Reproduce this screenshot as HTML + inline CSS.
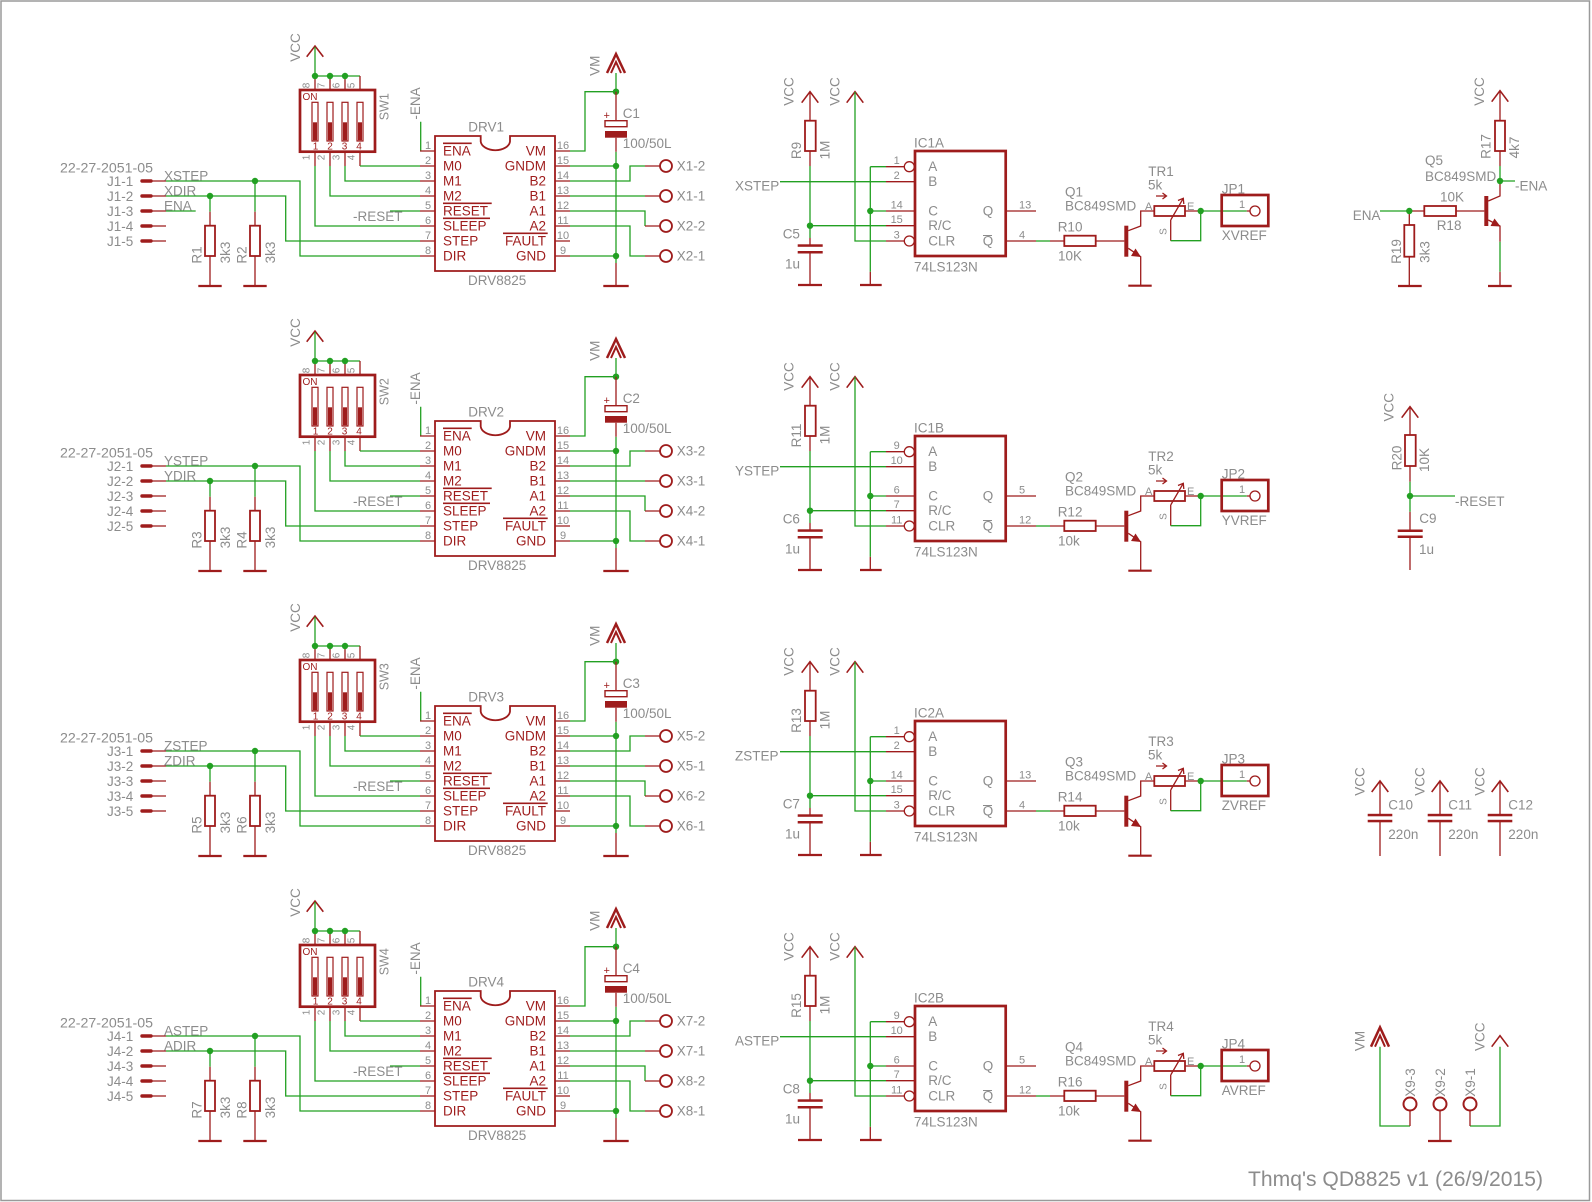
<!DOCTYPE html>
<html><head><meta charset="utf-8"><style>
html,body{margin:0;padding:0;background:#fff}
svg{display:block}
text{font-family:"Liberation Sans",sans-serif;font-size:13.5px;fill:#8c8c8c}
.r{fill:#9e1c1c}.m{text-anchor:middle}.e{text-anchor:end}.s{font-size:11px}.t{font-size:10px}
.p{stroke:#9e1c1c;stroke-width:1.3;fill:none}
.n{stroke:#22a022;stroke-width:1.3;fill:none}
.w{stroke:#9e1c1c;stroke-width:2.7;fill:none}
.b{stroke:#9e1c1c;stroke-width:1.8;fill:none}
.g{stroke:#9e1c1c;stroke-width:2.2;fill:none}
.v{stroke:#9e1c1c;stroke-width:1.6;fill:none}
.j{fill:#22a022}.f{fill:#9e1c1c}
</style></head><body>
<svg width="1592" height="1202" viewBox="0 0 1592 1202" xmlns="http://www.w3.org/2000/svg">
<rect x="0" y="0" width="1592" height="1202" fill="#fff"/>
<rect x="1" y="1" width="1588.5" height="1199.5" fill="none" stroke="#9a9a9a" stroke-width="1.5"/>
<defs>
<g id="LS">
<path class="v" d="M306.7,56.7L315,46L323.3,56.7"/>
<path class="n" d="M315,47V76H360"/>
<path class="p" d="M315,76V90M330,76V90M345,76V90M360,76V90"/>
<circle class="j" cx="315" cy="76" r="3.2"/><circle class="j" cx="330" cy="76" r="3.2"/><circle class="j" cx="345" cy="76" r="3.2"/>
<rect class="w" x="300" y="90" width="75" height="61.7"/>
<g stroke="#9e1c1c" stroke-width="1.2" fill="#fff">
<rect x="312" y="102.3" width="6" height="38.7"/><rect x="327" y="102.3" width="6" height="38.7"/><rect x="342" y="102.3" width="6" height="38.7"/><rect x="357" y="102.3" width="6" height="38.7"/>
</g>
<rect class="f" x="313" y="122.3" width="4" height="18"/><rect class="f" x="328" y="122.3" width="4" height="18"/><rect class="f" x="343" y="122.3" width="4" height="18"/><rect class="f" x="358" y="122.3" width="4" height="18"/>
<path class="p" d="M315,151.7V166M330,151.7V166M345,151.7V166M360,151.7V166"/>
<path class="n" d="M360,166H420M345,166V181H420M330,166V196H420M315,166V226H420"/>
<path d="M142,181H151M142,196H151M142,211H151M142,226H151M142,241H151" stroke="#9e1c1c" stroke-width="3.4" stroke-linecap="round" fill="none"/>
<path class="p" d="M151,181H166M151,196H166M151,211H166M151,226H166M151,241H166"/>
<path class="n" d="M166,181H300V256H420M166,196H285.7V241H420"/>
<circle class="j" cx="210" cy="196" r="3.2"/><circle class="j" cx="255" cy="181" r="3.2"/>
<path class="n" d="M210,196V211.7M255,181V211.7"/>
<path class="p" d="M210,211.7V225.7M210,256V286M255,211.7V225.7M255,256V286"/>
<rect class="b" x="205" y="225.7" width="10" height="30.3"/><rect class="b" x="250" y="225.7" width="10" height="30.3"/>
<path class="g" d="M198.3,286H221.7M243.3,286H266.7"/>
<path class="n" d="M390,211H420M420.7,121.7V151"/>
<path class="b" stroke-width="1.7" d="M435,136H480.7V141.5A14.7,9.5 0 0 0 510,141.5V136H555V271H435Z"/>
<path class="p" d="M420,151H435M420,166H435M420,181H435M420,196H435M420,211H435M420,226H435M420,241H435M420,256H435"/>
<path class="p" d="M555,151H570M555,166H570M555,181H570M555,196H570M555,211H570M555,226H570M555,241H570M555,256H570"/>
<path class="v" d="M443,143.3H471.7M443,203.3H491.7M443,218.3H490M503,233.3H547.7"/>
<path class="n" d="M570,151H585V91.7H616M616,73V91.7M616,151.7V263M570,166H616M570,256H616M570,181H630V166H645M570,196H645M570,211H645V226M570,226H630V256H645"/>
<circle class="j" cx="616" cy="91.7" r="3.2"/><circle class="j" cx="616" cy="166" r="3.2"/><circle class="j" cx="616" cy="256" r="3.2"/>
<path d="M607,73L616,54L625,73" stroke="#9e1c1c" stroke-width="2.5" fill="none"/>
<path d="M611,73L616,62L621,73" stroke="#9e1c1c" stroke-width="2" fill="none"/>
<path class="p" d="M616,91.7V120.7M616,137.7V151.7M616,263V286"/>
<rect x="605" y="120.7" width="22" height="6" stroke="#9e1c1c" stroke-width="1.4" fill="#fff"/>
<rect class="f" x="605" y="131" width="22" height="6.7"/>
<path class="g" d="M603.3,286H628.7"/>
<path class="p" d="M645,166H660M645,196H660M645,226H660M645,256H660"/>
<g stroke="#9e1c1c" stroke-width="1.8" fill="none"><circle cx="666" cy="166" r="6"/><circle cx="666" cy="196" r="6"/><circle cx="666" cy="226" r="6"/><circle cx="666" cy="256" r="6"/></g>
</g>
<g id="MS">
<path class="v" d="M801.7,102.7L810,91.7L818.3,102.7M846.7,102.7L855,91.7L863.3,102.7"/>
<path class="p" d="M810,91.7V120.7M810,151V166M810,238V245.7M810,252V285M870.3,271.7V285"/>
<rect class="b" x="805" y="120.7" width="10.7" height="30.3"/>
<path class="n" d="M810,166V238M855,92V241H886M870.3,166.7V271.7M870.3,166.7H886M870.3,211H886M780,181.7H886M810,225.7H886"/>
<rect class="f" x="797.7" y="244.3" width="25" height="2.5"/><rect class="f" x="797.7" y="251" width="25" height="2.5"/>
<path class="g" d="M798,285H822M860,285H881.7"/>
<circle class="j" cx="810" cy="225.7" r="3.2"/><circle class="j" cx="870.3" cy="211" r="3.2"/>
<path class="p" d="M886,166.7H904.3M886,181.7H915M886,211H915M886,225.7H915M886,241H904.3"/>
<circle cx="909.3" cy="166.7" r="5" stroke="#9e1c1c" stroke-width="1.3" fill="#fff"/>
<circle cx="909.3" cy="241" r="5" stroke="#9e1c1c" stroke-width="1.3" fill="#fff"/>
<rect class="w" x="915" y="151" width="90.7" height="105"/>
<path d="M983,235.5H992" stroke="#8c8c8c" stroke-width="1"/>
<path class="p" d="M1005.7,211H1036M1005.7,241H1036M1050,241H1064.3M1095.7,241H1124.3"/>
<path class="n" d="M1036,241H1050"/>
<rect class="b" x="1064.3" y="235.7" width="31.4" height="10.3"/>
<rect class="f" x="1124.3" y="225.7" width="4" height="31"/>
<path class="p" d="M1128.3,230.7L1140.7,226V211H1154.3M1128.3,248.3L1140.7,256.7V285.7"/>
<path class="f" d="M1141,257L1131,256L1135.5,248.5Z"/>
<path class="g" d="M1128.3,285.7H1151.7"/>
<rect class="b" x="1154.3" y="206" width="30.7" height="10"/>
<path class="p" d="M1170.7,220L1183.3,198.3M1178,200.5L1183.3,198.3L1183.8,204M1156,196H1166.5M1162.5,193L1166.5,196L1162.5,199M1170.7,220V240.7M1185,211H1200.7M1246.7,211H1250"/>
<path class="n" d="M1170.7,240.7H1200.7V211H1246.7"/>
<circle class="j" cx="1200.7" cy="211" r="3.2"/>
<circle cx="1255" cy="211" r="5" stroke="#9e1c1c" stroke-width="1.3" fill="none"/>
<rect class="w" x="1221.7" y="195" width="46.6" height="31"/>
</g>
</defs>
<use href="#LS"/><use href="#LS" y="285"/><use href="#LS" y="570"/><use href="#LS" y="855"/>
<use href="#MS"/><use href="#MS" y="285"/><use href="#MS" y="570"/><use href="#MS" y="855"/>
<path class="n" d="M166,211H195.7"/>

<!-- BLOCK 1 TEXT -->
<g>
<text class="m" transform="translate(300,47.5)rotate(-90)">VCC</text>
<text class="t m" transform="translate(309.5,85.5)rotate(-90)">8</text><text class="t m" transform="translate(324.5,85.5)rotate(-90)">7</text><text class="t m" transform="translate(339.5,85.5)rotate(-90)">6</text><text class="t m" transform="translate(354.5,85.5)rotate(-90)">5</text>
<text class="t r" x="302.5" y="100">ON</text>
<text class="t r m" x="315.5" y="149.5">1</text><text class="t r m" x="330" y="149.5">2</text><text class="t r m" x="344.5" y="149.5">3</text><text class="t r m" x="359" y="149.5">4</text>
<text class="t m" transform="translate(309.5,157.5)rotate(-90)">1</text><text class="t m" transform="translate(324.5,157.5)rotate(-90)">2</text><text class="t m" transform="translate(339.5,157.5)rotate(-90)">3</text><text class="t m" transform="translate(354.5,157.5)rotate(-90)">4</text>
<text class="m" style="font-size:12.5px" transform="translate(388.3,106.7)rotate(-90)">SW1</text>
<text x="60" y="172.5" textLength="93" lengthAdjust="spacingAndGlyphs">22-27-2051-05</text>
<text class="e" x="133.3" y="186">J1-1</text><text class="e" x="133.3" y="201">J1-2</text><text class="e" x="133.3" y="216">J1-3</text><text class="e" x="133.3" y="231">J1-4</text><text class="e" x="133.3" y="246">J1-5</text>
<text x="164" y="180.5">XSTEP</text><text x="164" y="195.5">XDIR</text><text x="164" y="210.5">ENA</text>
<text x="353" y="221">-RESET</text>
<text class="m" transform="translate(201.7,255)rotate(-90)">R1</text><text class="m" transform="translate(230,252.5)rotate(-90)">3k3</text>
<text class="m" transform="translate(246.7,255)rotate(-90)">R2</text><text class="m" transform="translate(275,252.5)rotate(-90)">3k3</text>
<text class="m" transform="translate(420,103.5)rotate(-90)">-ENA</text>
<text x="468.3" y="131.5">DRV1</text>
<text class="s m" x="428" y="149">1</text><text class="s m" x="428" y="164">2</text><text class="s m" x="428" y="179">3</text><text class="s m" x="428" y="194">4</text><text class="s m" x="428" y="209">5</text><text class="s m" x="428" y="224">6</text><text class="s m" x="428" y="239">7</text><text class="s m" x="428" y="254">8</text>
<text class="r" x="443" y="155.5">ENA</text><text class="r" x="443" y="170.5">M0</text><text class="r" x="443" y="185.5">M1</text><text class="r" x="443" y="200.5">M2</text><text class="r" x="443" y="215.5">RESET</text><text class="r" x="443" y="230.5">SLEEP</text><text class="r" x="443" y="245.5">STEP</text><text class="r" x="443" y="260.5">DIR</text>
<text class="r e" x="546" y="155.5">VM</text><text class="r e" x="546" y="170.5">GNDM</text><text class="r e" x="546" y="185.5">B2</text><text class="r e" x="546" y="200.5">B1</text><text class="r e" x="546" y="215.5">A1</text><text class="r e" x="546" y="230.5">A2</text><text class="r e" x="546" y="245.5">FAULT</text><text class="r e" x="546" y="260.5">GND</text>
<text class="s m" x="563" y="149">16</text><text class="s m" x="563" y="164">15</text><text class="s m" x="563" y="179">14</text><text class="s m" x="563" y="194">13</text><text class="s m" x="563" y="209">12</text><text class="s m" x="563" y="224">11</text><text class="s m" x="563" y="239">10</text><text class="s m" x="563" y="254">9</text>
<text x="468" y="285">DRV8825</text>
<text class="r s" x="603.5" y="119">+</text><text x="622.7" y="118">C1</text><text x="622.7" y="148">100/50L</text>
<text x="676.7" y="170.5">X1-2</text><text x="676.7" y="200.5">X1-1</text><text x="676.7" y="230.5">X2-2</text><text x="676.7" y="260.5">X2-1</text>
<text class="m" transform="translate(599.3,65.8)rotate(-90)">VM</text>
<text class="m" transform="translate(793.3,91.5)rotate(-90)">VCC</text><text class="m" transform="translate(801,150.5)rotate(-90)">R9</text><text class="m" transform="translate(829.3,150)rotate(-90)">1M</text><text class="m" transform="translate(839.3,91.5)rotate(-90)">VCC</text>
<text x="782.7" y="238.3">C5</text><text x="785" y="268.3">1u</text><text x="735" y="190.7">XSTEP</text>
<text x="914" y="147.3">IC1A</text><text x="914" y="271.5">74LS123N</text>
<text class="s m" x="896.7" y="164.2">1</text><text class="s m" x="896.7" y="179.2">2</text><text class="s m" x="896.7" y="208.5">14</text><text class="s m" x="896.7" y="223.2">15</text><text class="s m" x="896.7" y="238.5">3</text>
<text x="928.3" y="171.2">A</text><text x="928.3" y="186.2">B</text><text x="928.3" y="215.5">C</text><text x="928.3" y="230.2">R/C</text><text x="928.3" y="245.5">CLR</text><text x="982.7" y="215.5">Q</text><text x="982.7" y="245.5">Q</text>
<text class="s" x="1019" y="208.5">13</text><text class="s" x="1019" y="238.5">4</text>
<text x="1065" y="196.5">Q1</text><text x="1065" y="210.5">BC849SMD</text><text x="1057.7" y="231.5">R10</text><text x="1058" y="260.5">10K</text>
<text x="1148.3" y="176">TR1</text><text x="1148" y="189.3">5k</text><text class="s" x="1145" y="210">A</text><text class="s" x="1187" y="210">E</text><text class="t m" transform="translate(1166.5,231.5)rotate(-90)">S</text>
<text x="1221.7" y="193.3">JP1</text><text class="s" x="1239" y="208">1</text><text x="1221.7" y="240">XVREF</text>
</g>

<!-- BLOCK 2 TEXT -->
<g transform="translate(0,285)">
<text class="m" transform="translate(300,47.5)rotate(-90)">VCC</text>
<text class="t m" transform="translate(309.5,85.5)rotate(-90)">8</text><text class="t m" transform="translate(324.5,85.5)rotate(-90)">7</text><text class="t m" transform="translate(339.5,85.5)rotate(-90)">6</text><text class="t m" transform="translate(354.5,85.5)rotate(-90)">5</text>
<text class="t r" x="302.5" y="100">ON</text>
<text class="t r m" x="315.5" y="149.5">1</text><text class="t r m" x="330" y="149.5">2</text><text class="t r m" x="344.5" y="149.5">3</text><text class="t r m" x="359" y="149.5">4</text>
<text class="t m" transform="translate(309.5,157.5)rotate(-90)">1</text><text class="t m" transform="translate(324.5,157.5)rotate(-90)">2</text><text class="t m" transform="translate(339.5,157.5)rotate(-90)">3</text><text class="t m" transform="translate(354.5,157.5)rotate(-90)">4</text>
<text class="m" style="font-size:12.5px" transform="translate(388.3,106.7)rotate(-90)">SW2</text>
<text x="60" y="172.5" textLength="93" lengthAdjust="spacingAndGlyphs">22-27-2051-05</text>
<text class="e" x="133.3" y="186">J2-1</text><text class="e" x="133.3" y="201">J2-2</text><text class="e" x="133.3" y="216">J2-3</text><text class="e" x="133.3" y="231">J2-4</text><text class="e" x="133.3" y="246">J2-5</text>
<text x="164" y="180.5">YSTEP</text><text x="164" y="195.5">YDIR</text>
<text x="353" y="221">-RESET</text>
<text class="m" transform="translate(201.7,255)rotate(-90)">R3</text><text class="m" transform="translate(230,252.5)rotate(-90)">3k3</text>
<text class="m" transform="translate(246.7,255)rotate(-90)">R4</text><text class="m" transform="translate(275,252.5)rotate(-90)">3k3</text>
<text class="m" transform="translate(420,103.5)rotate(-90)">-ENA</text>
<text x="468.3" y="131.5">DRV2</text>
<text class="s m" x="428" y="149">1</text><text class="s m" x="428" y="164">2</text><text class="s m" x="428" y="179">3</text><text class="s m" x="428" y="194">4</text><text class="s m" x="428" y="209">5</text><text class="s m" x="428" y="224">6</text><text class="s m" x="428" y="239">7</text><text class="s m" x="428" y="254">8</text>
<text class="r" x="443" y="155.5">ENA</text><text class="r" x="443" y="170.5">M0</text><text class="r" x="443" y="185.5">M1</text><text class="r" x="443" y="200.5">M2</text><text class="r" x="443" y="215.5">RESET</text><text class="r" x="443" y="230.5">SLEEP</text><text class="r" x="443" y="245.5">STEP</text><text class="r" x="443" y="260.5">DIR</text>
<text class="r e" x="546" y="155.5">VM</text><text class="r e" x="546" y="170.5">GNDM</text><text class="r e" x="546" y="185.5">B2</text><text class="r e" x="546" y="200.5">B1</text><text class="r e" x="546" y="215.5">A1</text><text class="r e" x="546" y="230.5">A2</text><text class="r e" x="546" y="245.5">FAULT</text><text class="r e" x="546" y="260.5">GND</text>
<text class="s m" x="563" y="149">16</text><text class="s m" x="563" y="164">15</text><text class="s m" x="563" y="179">14</text><text class="s m" x="563" y="194">13</text><text class="s m" x="563" y="209">12</text><text class="s m" x="563" y="224">11</text><text class="s m" x="563" y="239">10</text><text class="s m" x="563" y="254">9</text>
<text x="468" y="285">DRV8825</text>
<text class="r s" x="603.5" y="119">+</text><text x="622.7" y="118">C2</text><text x="622.7" y="148">100/50L</text>
<text x="676.7" y="170.5">X3-2</text><text x="676.7" y="200.5">X3-1</text><text x="676.7" y="230.5">X4-2</text><text x="676.7" y="260.5">X4-1</text>
<text class="m" transform="translate(599.3,65.8)rotate(-90)">VM</text>
<text class="m" transform="translate(793.3,91.5)rotate(-90)">VCC</text><text class="m" transform="translate(801,150.5)rotate(-90)">R11</text><text class="m" transform="translate(829.3,150)rotate(-90)">1M</text><text class="m" transform="translate(839.3,91.5)rotate(-90)">VCC</text>
<text x="782.7" y="238.3">C6</text><text x="785" y="268.3">1u</text><text x="735" y="190.7">YSTEP</text>
<text x="914" y="147.3">IC1B</text><text x="914" y="271.5">74LS123N</text>
<text class="s m" x="896.7" y="164.2">9</text><text class="s m" x="896.7" y="179.2">10</text><text class="s m" x="896.7" y="208.5">6</text><text class="s m" x="896.7" y="223.2">7</text><text class="s m" x="896.7" y="238.5">11</text>
<text x="928.3" y="171.2">A</text><text x="928.3" y="186.2">B</text><text x="928.3" y="215.5">C</text><text x="928.3" y="230.2">R/C</text><text x="928.3" y="245.5">CLR</text><text x="982.7" y="215.5">Q</text><text x="982.7" y="245.5">Q</text>
<text class="s" x="1019" y="208.5">5</text><text class="s" x="1019" y="238.5">12</text>
<text x="1065" y="196.5">Q2</text><text x="1065" y="210.5">BC849SMD</text><text x="1057.7" y="231.5">R12</text><text x="1058" y="260.5">10k</text>
<text x="1148.3" y="176">TR2</text><text x="1148" y="189.3">5k</text><text class="s" x="1145" y="210">A</text><text class="s" x="1187" y="210">E</text><text class="t m" transform="translate(1166.5,231.5)rotate(-90)">S</text>
<text x="1221.7" y="193.3">JP2</text><text class="s" x="1239" y="208">1</text><text x="1221.7" y="240">YVREF</text>
</g>

<!-- BLOCK 3 TEXT -->
<g transform="translate(0,570)">
<text class="m" transform="translate(300,47.5)rotate(-90)">VCC</text>
<text class="t m" transform="translate(309.5,85.5)rotate(-90)">8</text><text class="t m" transform="translate(324.5,85.5)rotate(-90)">7</text><text class="t m" transform="translate(339.5,85.5)rotate(-90)">6</text><text class="t m" transform="translate(354.5,85.5)rotate(-90)">5</text>
<text class="t r" x="302.5" y="100">ON</text>
<text class="t r m" x="315.5" y="149.5">1</text><text class="t r m" x="330" y="149.5">2</text><text class="t r m" x="344.5" y="149.5">3</text><text class="t r m" x="359" y="149.5">4</text>
<text class="t m" transform="translate(309.5,157.5)rotate(-90)">1</text><text class="t m" transform="translate(324.5,157.5)rotate(-90)">2</text><text class="t m" transform="translate(339.5,157.5)rotate(-90)">3</text><text class="t m" transform="translate(354.5,157.5)rotate(-90)">4</text>
<text class="m" style="font-size:12.5px" transform="translate(388.3,106.7)rotate(-90)">SW3</text>
<text x="60" y="172.5" textLength="93" lengthAdjust="spacingAndGlyphs">22-27-2051-05</text>
<text class="e" x="133.3" y="186">J3-1</text><text class="e" x="133.3" y="201">J3-2</text><text class="e" x="133.3" y="216">J3-3</text><text class="e" x="133.3" y="231">J3-4</text><text class="e" x="133.3" y="246">J3-5</text>
<text x="164" y="180.5">ZSTEP</text><text x="164" y="195.5">ZDIR</text>
<text x="353" y="221">-RESET</text>
<text class="m" transform="translate(201.7,255)rotate(-90)">R5</text><text class="m" transform="translate(230,252.5)rotate(-90)">3k3</text>
<text class="m" transform="translate(246.7,255)rotate(-90)">R6</text><text class="m" transform="translate(275,252.5)rotate(-90)">3k3</text>
<text class="m" transform="translate(420,103.5)rotate(-90)">-ENA</text>
<text x="468.3" y="131.5">DRV3</text>
<text class="s m" x="428" y="149">1</text><text class="s m" x="428" y="164">2</text><text class="s m" x="428" y="179">3</text><text class="s m" x="428" y="194">4</text><text class="s m" x="428" y="209">5</text><text class="s m" x="428" y="224">6</text><text class="s m" x="428" y="239">7</text><text class="s m" x="428" y="254">8</text>
<text class="r" x="443" y="155.5">ENA</text><text class="r" x="443" y="170.5">M0</text><text class="r" x="443" y="185.5">M1</text><text class="r" x="443" y="200.5">M2</text><text class="r" x="443" y="215.5">RESET</text><text class="r" x="443" y="230.5">SLEEP</text><text class="r" x="443" y="245.5">STEP</text><text class="r" x="443" y="260.5">DIR</text>
<text class="r e" x="546" y="155.5">VM</text><text class="r e" x="546" y="170.5">GNDM</text><text class="r e" x="546" y="185.5">B2</text><text class="r e" x="546" y="200.5">B1</text><text class="r e" x="546" y="215.5">A1</text><text class="r e" x="546" y="230.5">A2</text><text class="r e" x="546" y="245.5">FAULT</text><text class="r e" x="546" y="260.5">GND</text>
<text class="s m" x="563" y="149">16</text><text class="s m" x="563" y="164">15</text><text class="s m" x="563" y="179">14</text><text class="s m" x="563" y="194">13</text><text class="s m" x="563" y="209">12</text><text class="s m" x="563" y="224">11</text><text class="s m" x="563" y="239">10</text><text class="s m" x="563" y="254">9</text>
<text x="468" y="285">DRV8825</text>
<text class="r s" x="603.5" y="119">+</text><text x="622.7" y="118">C3</text><text x="622.7" y="148">100/50L</text>
<text x="676.7" y="170.5">X5-2</text><text x="676.7" y="200.5">X5-1</text><text x="676.7" y="230.5">X6-2</text><text x="676.7" y="260.5">X6-1</text>
<text class="m" transform="translate(599.3,65.8)rotate(-90)">VM</text>
<text class="m" transform="translate(793.3,91.5)rotate(-90)">VCC</text><text class="m" transform="translate(801,150.5)rotate(-90)">R13</text><text class="m" transform="translate(829.3,150)rotate(-90)">1M</text><text class="m" transform="translate(839.3,91.5)rotate(-90)">VCC</text>
<text x="782.7" y="238.3">C7</text><text x="785" y="268.3">1u</text><text x="735" y="190.7">ZSTEP</text>
<text x="914" y="147.3">IC2A</text><text x="914" y="271.5">74LS123N</text>
<text class="s m" x="896.7" y="164.2">1</text><text class="s m" x="896.7" y="179.2">2</text><text class="s m" x="896.7" y="208.5">14</text><text class="s m" x="896.7" y="223.2">15</text><text class="s m" x="896.7" y="238.5">3</text>
<text x="928.3" y="171.2">A</text><text x="928.3" y="186.2">B</text><text x="928.3" y="215.5">C</text><text x="928.3" y="230.2">R/C</text><text x="928.3" y="245.5">CLR</text><text x="982.7" y="215.5">Q</text><text x="982.7" y="245.5">Q</text>
<text class="s" x="1019" y="208.5">13</text><text class="s" x="1019" y="238.5">4</text>
<text x="1065" y="196.5">Q3</text><text x="1065" y="210.5">BC849SMD</text><text x="1057.7" y="231.5">R14</text><text x="1058" y="260.5">10k</text>
<text x="1148.3" y="176">TR3</text><text x="1148" y="189.3">5k</text><text class="s" x="1145" y="210">A</text><text class="s" x="1187" y="210">E</text><text class="t m" transform="translate(1166.5,231.5)rotate(-90)">S</text>
<text x="1221.7" y="193.3">JP3</text><text class="s" x="1239" y="208">1</text><text x="1221.7" y="240">ZVREF</text>
</g>

<!-- BLOCK 4 TEXT -->
<g transform="translate(0,855)">
<text class="m" transform="translate(300,47.5)rotate(-90)">VCC</text>
<text class="t m" transform="translate(309.5,85.5)rotate(-90)">8</text><text class="t m" transform="translate(324.5,85.5)rotate(-90)">7</text><text class="t m" transform="translate(339.5,85.5)rotate(-90)">6</text><text class="t m" transform="translate(354.5,85.5)rotate(-90)">5</text>
<text class="t r" x="302.5" y="100">ON</text>
<text class="t r m" x="315.5" y="149.5">1</text><text class="t r m" x="330" y="149.5">2</text><text class="t r m" x="344.5" y="149.5">3</text><text class="t r m" x="359" y="149.5">4</text>
<text class="t m" transform="translate(309.5,157.5)rotate(-90)">1</text><text class="t m" transform="translate(324.5,157.5)rotate(-90)">2</text><text class="t m" transform="translate(339.5,157.5)rotate(-90)">3</text><text class="t m" transform="translate(354.5,157.5)rotate(-90)">4</text>
<text class="m" style="font-size:12.5px" transform="translate(388.3,106.7)rotate(-90)">SW4</text>
<text x="60" y="172.5" textLength="93" lengthAdjust="spacingAndGlyphs">22-27-2051-05</text>
<text class="e" x="133.3" y="186">J4-1</text><text class="e" x="133.3" y="201">J4-2</text><text class="e" x="133.3" y="216">J4-3</text><text class="e" x="133.3" y="231">J4-4</text><text class="e" x="133.3" y="246">J4-5</text>
<text x="164" y="180.5">ASTEP</text><text x="164" y="195.5">ADIR</text>
<text x="353" y="221">-RESET</text>
<text class="m" transform="translate(201.7,255)rotate(-90)">R7</text><text class="m" transform="translate(230,252.5)rotate(-90)">3k3</text>
<text class="m" transform="translate(246.7,255)rotate(-90)">R8</text><text class="m" transform="translate(275,252.5)rotate(-90)">3k3</text>
<text class="m" transform="translate(420,103.5)rotate(-90)">-ENA</text>
<text x="468.3" y="131.5">DRV4</text>
<text class="s m" x="428" y="149">1</text><text class="s m" x="428" y="164">2</text><text class="s m" x="428" y="179">3</text><text class="s m" x="428" y="194">4</text><text class="s m" x="428" y="209">5</text><text class="s m" x="428" y="224">6</text><text class="s m" x="428" y="239">7</text><text class="s m" x="428" y="254">8</text>
<text class="r" x="443" y="155.5">ENA</text><text class="r" x="443" y="170.5">M0</text><text class="r" x="443" y="185.5">M1</text><text class="r" x="443" y="200.5">M2</text><text class="r" x="443" y="215.5">RESET</text><text class="r" x="443" y="230.5">SLEEP</text><text class="r" x="443" y="245.5">STEP</text><text class="r" x="443" y="260.5">DIR</text>
<text class="r e" x="546" y="155.5">VM</text><text class="r e" x="546" y="170.5">GNDM</text><text class="r e" x="546" y="185.5">B2</text><text class="r e" x="546" y="200.5">B1</text><text class="r e" x="546" y="215.5">A1</text><text class="r e" x="546" y="230.5">A2</text><text class="r e" x="546" y="245.5">FAULT</text><text class="r e" x="546" y="260.5">GND</text>
<text class="s m" x="563" y="149">16</text><text class="s m" x="563" y="164">15</text><text class="s m" x="563" y="179">14</text><text class="s m" x="563" y="194">13</text><text class="s m" x="563" y="209">12</text><text class="s m" x="563" y="224">11</text><text class="s m" x="563" y="239">10</text><text class="s m" x="563" y="254">9</text>
<text x="468" y="285">DRV8825</text>
<text class="r s" x="603.5" y="119">+</text><text x="622.7" y="118">C4</text><text x="622.7" y="148">100/50L</text>
<text x="676.7" y="170.5">X7-2</text><text x="676.7" y="200.5">X7-1</text><text x="676.7" y="230.5">X8-2</text><text x="676.7" y="260.5">X8-1</text>
<text class="m" transform="translate(599.3,65.8)rotate(-90)">VM</text>
<text class="m" transform="translate(793.3,91.5)rotate(-90)">VCC</text><text class="m" transform="translate(801,150.5)rotate(-90)">R15</text><text class="m" transform="translate(829.3,150)rotate(-90)">1M</text><text class="m" transform="translate(839.3,91.5)rotate(-90)">VCC</text>
<text x="782.7" y="238.3">C8</text><text x="785" y="268.3">1u</text><text x="735" y="190.7">ASTEP</text>
<text x="914" y="147.3">IC2B</text><text x="914" y="271.5">74LS123N</text>
<text class="s m" x="896.7" y="164.2">9</text><text class="s m" x="896.7" y="179.2">10</text><text class="s m" x="896.7" y="208.5">6</text><text class="s m" x="896.7" y="223.2">7</text><text class="s m" x="896.7" y="238.5">11</text>
<text x="928.3" y="171.2">A</text><text x="928.3" y="186.2">B</text><text x="928.3" y="215.5">C</text><text x="928.3" y="230.2">R/C</text><text x="928.3" y="245.5">CLR</text><text x="982.7" y="215.5">Q</text><text x="982.7" y="245.5">Q</text>
<text class="s" x="1019" y="208.5">5</text><text class="s" x="1019" y="238.5">12</text>
<text x="1065" y="196.5">Q4</text><text x="1065" y="210.5">BC849SMD</text><text x="1057.7" y="231.5">R16</text><text x="1058" y="260.5">10k</text>
<text x="1148.3" y="176">TR4</text><text x="1148" y="189.3">5k</text><text class="s" x="1145" y="210">A</text><text class="s" x="1187" y="210">E</text><text class="t m" transform="translate(1166.5,231.5)rotate(-90)">S</text>
<text x="1221.7" y="193.3">JP4</text><text class="s" x="1239" y="208">1</text><text x="1221.7" y="240">AVREF</text>
</g>

<!-- RIGHT COLUMN: Q5 -->
<path class="v" d="M1491.7,101.7L1500,90.7L1508.3,101.7"/>
<path class="p" d="M1500,90.7V120.7M1500,151V166M1500,181V196L1488.3,201M1488.3,220L1500,226V241.7M1500,271.7V286M1456,211H1484.3M1409.3,211H1424.3M1409.3,211V225M1409.3,256.7V286"/>
<path class="n" d="M1500,166V181H1515M1500,241.7V271.7M1380,211H1409.3"/>
<rect class="b" x="1495" y="120.7" width="10" height="30.3"/>
<rect class="b" x="1424.3" y="206" width="31.7" height="10"/>
<rect class="b" x="1404.3" y="225" width="10" height="31.7"/>
<rect class="f" x="1484.3" y="196" width="4" height="30"/>
<path class="f" d="M1500.5,226.5L1490.5,226L1494.5,218.5Z"/>
<circle class="j" cx="1500" cy="181" r="3.2"/><circle class="j" cx="1409.3" cy="211" r="3.2"/>
<path class="g" d="M1488,286H1511.7M1398,286H1421.7"/>
<text class="m" transform="translate(1484,91.5)rotate(-90)">VCC</text>
<text class="m" transform="translate(1490.7,146.5)rotate(-90)">R17</text>
<text class="m" transform="translate(1519,147.5)rotate(-90)">4k7</text>
<text x="1515" y="190.5">-ENA</text>
<text x="1425" y="165">Q5</text><text x="1425" y="181">BC849SMD</text>
<text x="1440" y="201.7">10K</text><text x="1436.7" y="230">R18</text>
<text x="1352.7" y="220">ENA</text>
<text class="m" transform="translate(1401,251.5)rotate(-90)">R19</text>
<text class="m" transform="translate(1429.3,252)rotate(-90)">3k3</text>

<!-- R20 / C9 -->
<path class="v" d="M1401.7,417.7L1410,406.7L1418.3,417.7"/>
<path class="p" d="M1410,406.7V435M1410,466V481.7M1410,511.7V529.5M1410,536V570"/>
<path class="n" d="M1410,481.7V511.7M1410,496H1455"/>
<rect class="b" x="1405" y="435" width="10.7" height="31"/>
<circle class="j" cx="1410" cy="496" r="3.2"/>
<rect class="f" x="1397.7" y="529.5" width="25" height="2.5"/><rect class="f" x="1397.7" y="535.5" width="25" height="2.5"/>
<text class="m" transform="translate(1393.3,407.3)rotate(-90)">VCC</text>
<text class="m" transform="translate(1401.7,458)rotate(-90)">R20</text>
<text class="m" transform="translate(1429,460)rotate(-90)">10K</text>
<text x="1455" y="506">-RESET</text>
<text x="1419.3" y="523">C9</text><text x="1419" y="554">1u</text>

<!-- C10 C11 C12 -->
<path class="v" d="M1371.7,792L1380,781L1388.3,792M1431.7,792L1440,781L1448.3,792M1491.7,792L1500,781L1508.3,792"/>
<path class="p" d="M1380,781V814M1380,822V856M1440,781V814M1440,822V856M1500,781V814M1500,822V856"/>
<rect class="f" x="1367.7" y="813.8" width="24.6" height="2.5"/><rect class="f" x="1367.7" y="819.8" width="24.6" height="2.5"/>
<rect class="f" x="1427.7" y="813.8" width="24.6" height="2.5"/><rect class="f" x="1427.7" y="819.8" width="24.6" height="2.5"/>
<rect class="f" x="1487.7" y="813.8" width="24.6" height="2.5"/><rect class="f" x="1487.7" y="819.8" width="24.6" height="2.5"/>
<text class="m" transform="translate(1364.3,781.5)rotate(-90)">VCC</text>
<text class="m" transform="translate(1424.3,781.5)rotate(-90)">VCC</text>
<text class="m" transform="translate(1484.3,781.5)rotate(-90)">VCC</text>
<text x="1388.3" y="809.3">C10</text><text x="1448.3" y="809.3">C11</text><text x="1508.3" y="809.3">C12</text>
<text x="1388.3" y="839">220n</text><text x="1448.3" y="839">220n</text><text x="1508.3" y="839">220n</text>

<!-- X9 -->
<path d="M1371,1046.7L1380,1027.3L1389,1046.7" stroke="#9e1c1c" stroke-width="2.5" fill="none"/>
<path d="M1375,1046.7L1380,1035.5L1385,1046.7" stroke="#9e1c1c" stroke-width="2" fill="none"/>
<path class="v" d="M1491.7,1046.7L1500,1035.7L1508.3,1046.7"/>
<path class="n" d="M1380,1046.7V1126H1410M1470,1126H1500V1046.7"/>
<path class="p" d="M1410,1126V1110.7M1440,1110.7V1141M1470,1110.7V1126"/>
<g stroke="#9e1c1c" stroke-width="2" fill="none"><circle cx="1410" cy="1104" r="6.5"/><circle cx="1440" cy="1104" r="6.5"/><circle cx="1470" cy="1104" r="6.5"/></g>
<path class="g" d="M1428,1141H1451.7"/>
<text class="m" transform="translate(1364.3,1041)rotate(-90)">VM</text>
<text class="m" transform="translate(1484.3,1036.7)rotate(-90)">VCC</text>
<text class="m" transform="translate(1415,1082.5)rotate(-90)">X9-3</text>
<text class="m" transform="translate(1445,1082.5)rotate(-90)">X9-2</text>
<text class="m" transform="translate(1475,1082.5)rotate(-90)">X9-1</text>

<text x="1248" y="1186" style="font-size:21px" textLength="295" lengthAdjust="spacingAndGlyphs">Thmq's QD8825 v1 (26/9/2015)</text>
</svg>
</body></html>
